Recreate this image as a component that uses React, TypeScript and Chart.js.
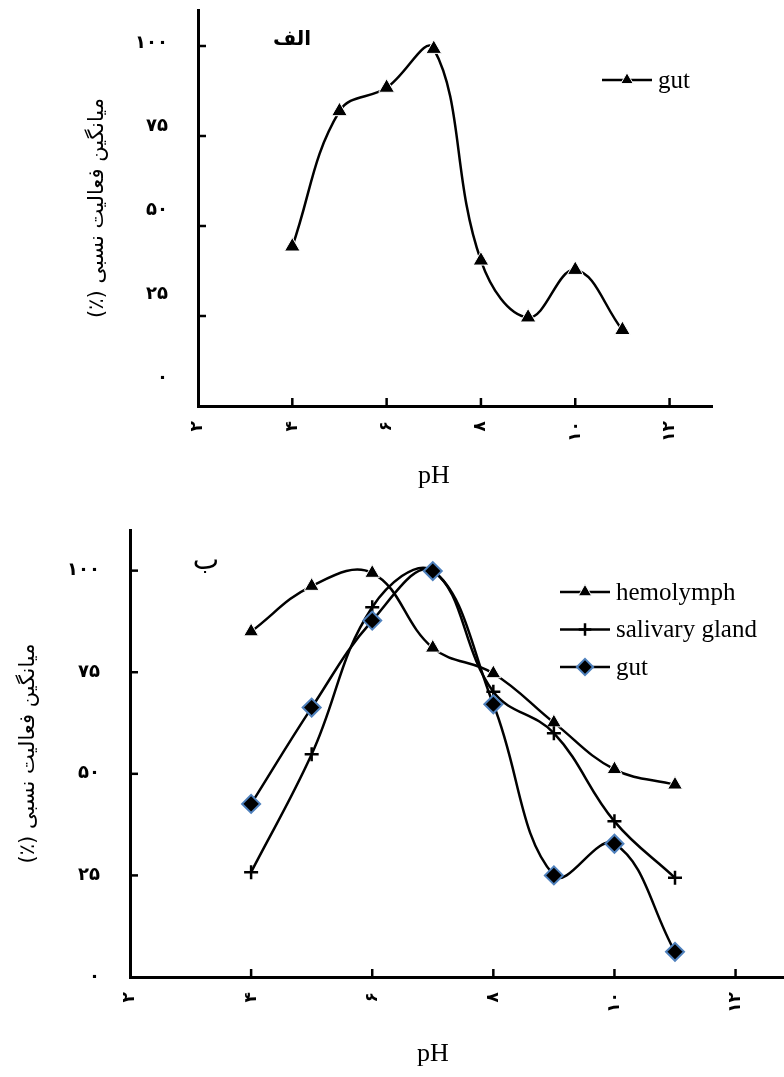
import React, { useEffect, useRef } from 'react';
import { Chart, registerables, PointElement } from 'chart.js';

Chart.register(...registerables);

// ---- data ----
const phValues = [4, 5, 6, 7, 8, 9, 10, 11];
const xMin = 2;
const xStep = 2;
const yMin = 0;
const yMax = 110;
const yStep = 25;

const gutPanelA = [44.3, 81.9, 88.4, 99.2, 40.4, 24.6, 37.8, 21.1];
const hemolymph = [85.0, 96.2, 99.4, 81.0, 74.7, 62.6, 51.1, 47.3];
const salivaryGland = [25.8, 54.8, 91.0, 100.0, 70.2, 60.0, 38.3, 24.4];
const gutPanelB = [42.6, 66.3, 87.7, 99.9, 67.1, 25.0, 32.8, 6.2];

const seriesLabels = ['hemolymph', 'salivary gland', 'gut'];
const panelTitles = ['الف', 'ب'];
const yTitle = '\u200Fمیانگین فعالیت نسبی (٪)\u200F';
const xTitle = 'pH';

// the tick labels of panel A sit on a slightly compressed scale
const panelALabelMin = -8.35;
const panelALabelMax = 109.8;

const faDigits = '۰۱۲۳۴۵۶۷۸۹';
const toFa = (v: number | string) => String(v).replace(/\d/g, (d) => faDigits[Number(d)]);

const toPoints = (vals: number[]) => phValues.map((p, i) => ({ x: p, y: vals[i] }));

const decorPlugin = {
  id: 'decor',
  afterDraw(chart: any, _args: any, opts: any) {
    const ctx = chart.ctx;
    const xs = chart.scales.x;
    const ys = chart.scales.y;
    const area = chart.chartArea;
    ctx.save();
    ctx.strokeStyle = '#000';
    ctx.lineWidth = 2.5;
    // inner tick marks
    xs.ticks.forEach((t: any) => {
      if (t.value === xs.min) return;
      const px = xs.getPixelForValue(t.value);
      ctx.beginPath();
      ctx.moveTo(px, area.bottom);
      ctx.lineTo(px, area.bottom - opts.tickLen);
      ctx.stroke();
    });
    ys.ticks.forEach((t: any) => {
      if (t.value === ys.min) return;
      const py = ys.getPixelForValue(t.value);
      ctx.beginPath();
      ctx.moveTo(area.left, py);
      ctx.lineTo(area.left + opts.tickLen, py);
      ctx.stroke();
    });
    // x title centred on the tick range
    const first = xs.getPixelForValue(xs.ticks[0].value);
    const last = xs.getPixelForValue(xs.ticks[xs.ticks.length - 1].value);
    ctx.fillStyle = '#000';
    ctx.font = '26px "Liberation Serif", "Times New Roman", serif';
    ctx.textAlign = 'center';
    ctx.textBaseline = 'alphabetic';
    ctx.fillText(xTitle, (first + last) / 2, opts.titleY);
    // panel label
    ctx.font = opts.panelFont;
    ctx.textBaseline = 'middle';
    ctx.fillText(opts.panelText, opts.panelX, opts.panelY);
    // legend
    chart.data.datasets.forEach((ds: any, i: number) => {
      const ly = opts.legendY + i * opts.legendGap;
      const lx = opts.legendX;
      ctx.strokeStyle = '#000';
      ctx.lineWidth = 2.5;
      ctx.beginPath();
      ctx.moveTo(lx, ly);
      ctx.lineTo(lx + 50, ly);
      ctx.stroke();
      const meta = chart.getDatasetMeta(i);
      const src = meta.data[0];
      if (src) {
        const o = { ...src.options, radius: src.options.radius * opts.legendMarkerScale };
        const el: any = new PointElement({ x: lx + 25, y: ly, options: o } as any);
        el.draw(ctx, { left: 0, top: 0, right: chart.width, bottom: chart.height });
      }
      ctx.fillStyle = '#000';
      ctx.font = '25px "Liberation Serif", "Times New Roman", serif';
      ctx.textAlign = 'left';
      ctx.textBaseline = 'middle';
      ctx.fillText(ds.label, lx + 56, ly + 1);
    });
    ctx.restore();
  },
};

const baseLine = { borderColor: '#000', borderWidth: 2.5, tension: 0.4, fill: false };

const tickFont = { family: 'DejaVu Sans', size: 18, weight: 'bold' };

function labelAxis(min: number, max: number, width: number, showTitle: boolean, weight: number) {
  return {
    type: 'linear',
    position: 'left',
    weight,
    min,
    max,
    border: { display: false },
    grid: { display: false, drawTicks: false },
    title: {
      display: showTitle,
      text: yTitle,
      color: '#000',
      padding: 0,
      font: { family: 'DejaVu Sans', size: 21 },
    },
    ticks: {
      stepSize: yStep,
      includeBounds: false,
      padding: 30,
      color: '#000',
      font: tickFont,
      callback: (v: number) => (v < 0 ? '' : toFa(v)),
    },
    afterFit: (s: any) => {
      s.width = width;
      s.paddingTop = 0;
      s.paddingBottom = 0;
    },
  };
}

function makeConfig(p: any) {
  const y: any = {
    type: 'linear',
    position: 'left',
    weight: 0,
    min: yMin,
    max: yMax,
    border: { display: true, color: '#000', width: 3 },
    grid: { display: false, drawTicks: false },
    ticks: { display: false, stepSize: yStep, includeBounds: false },
    afterFit: (s: any) => {
      s.width = 0;
      s.paddingTop = 0;
      s.paddingBottom = 0;
    },
  };
  return {
    type: 'line',
    data: { datasets: p.datasets },
    options: {
      responsive: false,
      animation: false,
      devicePixelRatio: 1,
      events: [],
      layout: { padding: p.padding, autoPadding: false },
      plugins: { legend: { display: false }, tooltip: { enabled: false }, decor: p.decor },
      scales: {
        x: {
          type: 'linear',
          min: xMin,
          max: p.xMax,
          border: { display: true, color: '#000', width: 3 },
          grid: { display: false, drawTicks: false },
          ticks: {
            stepSize: xStep,
            includeBounds: false,
            autoSkip: false,
            minRotation: 90,
            maxRotation: 90,
            padding: p.xTickPad,
            color: '#000',
            font: { family: 'DejaVu Sans', size: 17, weight: 'bold' },
            callback: (v: number) => toFa(v),
          },
          afterFit: (s: any) => {
            s.height = p.xHeight;
            s.paddingLeft = 0;
            s.paddingRight = 0;
          },
        },
        y,
        yLabels: labelAxis(p.labelMin, p.labelMax, p.yWidth, true, 1),
      },
    },
    plugins: [decorPlugin],
  };
}

function Panel({ width, height, config }: any) {
  const ref = useRef<HTMLCanvasElement | null>(null);
  useEffect(() => {
    if (!ref.current) return;
    const chart = new Chart(ref.current, config);
    return () => chart.destroy();
  }, []);
  return <canvas ref={ref} width={width} height={height} style={{ display: 'block', width, height }} />;
}

const configA = makeConfig({
  datasets: [
    {
      ...baseLine,
      label: 'gut',
      data: toPoints(gutPanelA),
      pointStyle: 'triangle',
      pointRadius: 9,
      pointBackgroundColor: '#000',
      pointBorderColor: '#fff',
      pointBorderWidth: 1,
    },
  ],
  padding: { left: 85, right: 72, top: 10, bottom: 0 },
  xMax: 12.9,
  xHeight: 94,
  xTickPad: 15,
  yWidth: 113,
  labelMin: panelALabelMin,
  labelMax: panelALabelMax,
  decor: {
    tickLen: 8,
    titleY: 483,
    panelText: panelTitles[0],
    panelFont: 'bold 20px "DejaVu Sans"',
    panelX: 292,
    panelY: 40,
    legendX: 602,
    legendY: 80,
    legendGap: 37,
    legendMarkerScale: 0.8,
  },
});

const configB = makeConfig({
  datasets: [
    {
      ...baseLine,
      label: seriesLabels[0],
      data: toPoints(hemolymph),
      order: 3,
      pointStyle: 'triangle',
      pointRadius: 8.5,
      pointBackgroundColor: '#000',
      pointBorderColor: '#fff',
      pointBorderWidth: 1,
    },
    {
      ...baseLine,
      label: seriesLabels[1],
      data: toPoints(salivaryGland),
      order: 2,
      pointStyle: 'cross',
      pointRadius: 7,
      pointBackgroundColor: '#000',
      pointBorderColor: '#000',
      pointBorderWidth: 2.5,
    },
    {
      ...baseLine,
      label: seriesLabels[2],
      data: toPoints(gutPanelB),
      order: 1,
      pointStyle: 'rectRot',
      pointRadius: 9,
      pointBackgroundColor: '#000',
      pointBorderColor: '#4F81BD',
      pointBorderWidth: 2,
    },
  ],
  padding: { left: 16, right: 0, top: 30, bottom: 0 },
  xMax: 12.8,
  xHeight: 100,
  xTickPad: 15,
  yWidth: 114,
  labelMin: yMin,
  labelMax: yMax,
  decor: {
    tickLen: 8,
    titleY: 561,
    panelText: panelTitles[1],
    panelFont: '28px "DejaVu Sans"',
    panelX: 206,
    panelY: 62,
    legendX: 560,
    legendY: 92,
    legendGap: 37.5,
    legendMarkerScale: 0.9,
  },
});

export default function App() {
  return (
    <div style={{ position: 'absolute', left: 0, top: 0, width: 784, height: 1077, background: '#fff', overflow: 'hidden' }}>
      <Panel width={784} height={500} config={configA} />
      <Panel width={784} height={577} config={configB} />
    </div>
  );
}
